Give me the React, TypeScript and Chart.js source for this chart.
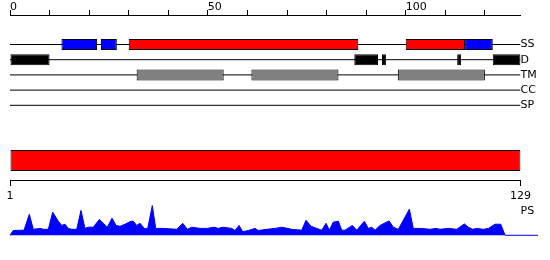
import React, { useEffect, useRef } from 'react';
import { Chart, registerables } from 'chart.js';

Chart.register(...registerables);

// ---------- data ----------
const SEQ_LENGTH = 129;
const TRACK_LABELS = ['SS', 'D', 'TM', 'CC', 'SP'];
const PROFILE_LABEL = 'PS';

const SS_STRAND: number[][] = [[13, 22], [23, 27], [115, 122]];
const SS_HELIX: number[][] = [[30, 88], [100, 115]];
const DISORDER: number[][] = [[0, 10], [87, 93], [94, 95], [113, 114], [122, 129]];
const TM_SEGMENTS: number[][] = [[32, 54], [61, 83], [98, 120]];
const SEQ_RANGE: number[] = [0, 129];

const TOP_TICK_LABELS: number[] = [0, 50, 100];
const SEQ_TICK_LABELS: string[] = ['1', '129'];

const PS_POS: number[] = [
  0, 0.83, 3.54, 4.88, 5.89, 7.58, 8.42, 9.68, 10.79, 12.21,
  13.07, 13.9, 14.73, 15.59, 16.86, 17.94, 18.95, 19.79, 21.05, 22.57,
  23.58, 24.59, 25.78, 26.79, 27.8, 29.06, 30.58, 31.16, 32.02, 32.85,
  33.94, 34.8, 35.96, 36.82, 38.74, 42.13, 43.64, 44.81, 45.92, 48.02,
  49.71, 51.63, 52.64, 53.75, 56.03, 56.86, 57.87, 58.81, 60.22, 61.92,
  62.75, 64.87, 66.97, 68.66, 71.19, 73.72, 74.8, 76.07, 77.51, 78.77,
  79.86, 80.69, 81.7, 82.97, 83.83, 84.66, 86.51, 87.62, 89.54, 90.55,
  91.41, 92.24, 93.51, 95.78, 96.87, 98.13, 100.91, 101.92, 104.04, 106.14,
  107.66, 108.67, 110.77, 112.89, 114.81, 115.82, 116.93, 117.94, 119.61, 120.88,
  122.57, 124.01, 125.09, 133.43,
];
const PS_VAL: number[] = [
  0, 0.16, 0.17, 0.7, 0.2, 0.23, 0.2, 0.2, 0.77, 0.47,
  0.33, 0.37, 0.23, 0.2, 0.2, 0.83, 0.23, 0.27, 0.27, 0.53,
  0.4, 0.27, 0.57, 0.33, 0.3, 0.37, 0.47, 0.47, 0.33, 0.4,
  0.23, 0.23, 0.99, 0.23, 0.23, 0.2, 0.4, 0.2, 0.27, 0.23,
  0.23, 0.27, 0.23, 0.27, 0.23, 0.16, 0.33, 0.12, 0.16, 0.23,
  0.16, 0.2, 0.23, 0.27, 0.2, 0.17, 0.5, 0.3, 0.23, 0.17,
  0.4, 0.17, 0.44, 0.47, 0.17, 0.17, 0.33, 0.17, 0.47, 0.23,
  0.27, 0.17, 0.33, 0.48, 0.27, 0.2, 0.87, 0.23, 0.23, 0.2,
  0.23, 0.2, 0.23, 0.2, 0.38, 0.27, 0.2, 0.23, 0.2, 0.23,
  0.37, 0.37, 0, 0,
];

// ---------- layout (rows on the track scale) ----------
const ROW_MIN = -0.941;
const ROW_MAX = 14.52;
const SEQ_ROW = 8.63;
const BRACKET_ROW = 9.947;
const PS_LABEL_ROW = 11.95;
const PS_MIN = -0.49;
const PS_MAX = 7.343;

const rowOf = (label: string) => TRACK_LABELS.indexOf(label) + 1;

export default function App() {
  const ref = useRef<HTMLCanvasElement | null>(null);

  useEffect(() => {
    if (!ref.current) return;
    Chart.defaults.font.family = "'DejaVu Sans', sans-serif";
    Chart.defaults.font.size = 11;
    Chart.defaults.color = '#000';

    const boxSet = (segs: number[][], row: number, fill: string, thickness: number) => ({
      type: 'bar' as const,
      indexAxis: 'y' as const,
      xAxisID: 'x',
      yAxisID: 'yTrack',
      data: segs.map(([a, b]) => ({ x: [a, b], y: row })),
      backgroundColor: fill,
      borderColor: '#000',
      borderWidth: 1,
      borderSkipped: false,
      barThickness: thickness,
      grouped: false,
      inflateAmount: 0,
      order: 1,
    });

    const trackLines = TRACK_LABELS.map((t) => ({
      type: 'line' as const,
      indexAxis: 'x' as const,
      xAxisID: 'x',
      yAxisID: 'yTrack',
      data: [
        { x: 0, y: rowOf(t) },
        { x: SEQ_LENGTH, y: rowOf(t) },
      ],
      borderColor: '#000',
      borderWidth: 1,
      pointRadius: 0,
      fill: false,
      order: 3,
    }));

    const rightTicks = [...TRACK_LABELS.map((t) => rowOf(t)), PS_LABEL_ROW];
    const rightLabels = [...TRACK_LABELS, PROFILE_LABEL];

    const chart = new Chart(ref.current, {
      type: 'line',
      data: {
        datasets: [
          ...trackLines,
          boxSet(SS_STRAND, rowOf('SS'), '#0000ff', 11),
          boxSet(SS_HELIX, rowOf('SS'), '#ff0000', 11),
          boxSet(DISORDER, rowOf('D'), '#000000', 11),
          boxSet(TM_SEGMENTS, rowOf('TM'), '#808080', 11),
          boxSet([SEQ_RANGE], SEQ_ROW, '#ff0000', 21),
          {
            type: 'line',
            indexAxis: 'x',
            xAxisID: 'x',
            yAxisID: 'yPS',
            data: PS_POS.map((p, i) => ({ x: p, y: PS_VAL[i] })),
            borderColor: '#0000ff',
            backgroundColor: '#0000ff',
            borderWidth: 1,
            pointRadius: 0,
            tension: 0,
            fill: 'origin',
            clip: false,
            order: 0,
          },
        ] as any,
      },
      options: {
        animation: false,
        responsive: false,
        maintainAspectRatio: false,
        events: [],
        layout: { padding: { left: 10, right: 0, top: 0, bottom: 10 } },
        plugins: { legend: { display: false }, tooltip: { enabled: false } },
        scales: {
          x: {
            type: 'linear',
            axis: 'x',
            position: 'top',
            min: 0,
            max: SEQ_LENGTH,
            offset: false,
            grid: { display: true, drawOnChartArea: false, drawTicks: true, tickLength: 5, color: '#000', offset: false },
            border: { display: true, color: '#000', width: 1 },
            ticks: {
              stepSize: 10,
              includeBounds: false,
              autoSkip: false,
              maxRotation: 0,
              align: 'start',
              padding: -3.5,
              color: '#000',
              callback: (v: any) => (TOP_TICK_LABELS.includes(Number(v)) ? String(v) : ''),
            },
            afterFit: (s: any) => {
              s.height = 15;
            },
          },
          xSeq: {
            type: 'linear',
            axis: 'x',
            position: { yTrack: BRACKET_ROW } as any,
            min: 0,
            max: SEQ_LENGTH,
            offset: false,
            grid: { display: true, drawOnChartArea: false, drawTicks: true, tickLength: 5, color: '#000', offset: false },
            border: { display: true, color: '#000', width: 1 },
            afterBuildTicks: (s: any) => {
              s.ticks = SEQ_RANGE.map((v) => ({ value: v }));
            },
            ticks: {
              autoSkip: false,
              maxRotation: 0,
              padding: 4,
              color: '#000',
              callback: (_v: any, i: number) => SEQ_TICK_LABELS[i],
            },
          },
          yTrack: {
            type: 'linear',
            axis: 'y',
            position: 'right',
            reverse: true,
            offset: false,
            beginAtZero: false,
            min: ROW_MIN,
            max: ROW_MAX,
            grid: { display: false, drawTicks: false, offset: false },
            border: { display: false },
            afterBuildTicks: (s: any) => {
              s.ticks = rightTicks.map((v) => ({ value: v }));
            },
            ticks: {
              autoSkip: false,
              padding: 0,
              color: '#000',
              callback: (_v: any, i: number) => rightLabels[i],
            },
            afterFit: (s: any) => {
              s.width = 29.5;
            },
          },
          yPS: {
            type: 'linear',
            axis: 'y',
            display: false,
            offset: false,
            min: PS_MIN,
            max: PS_MAX,
          },
        } as any,
      },
    });
    return () => chart.destroy();
  }, []);

  return (
    <div style={{ position: 'fixed', left: 0, top: 0, width: 550, height: 260, background: '#fff' }}>
      <canvas ref={ref} width={550} height={260} style={{ display: 'block', width: 550, height: 260 }} />
    </div>
  );
}
